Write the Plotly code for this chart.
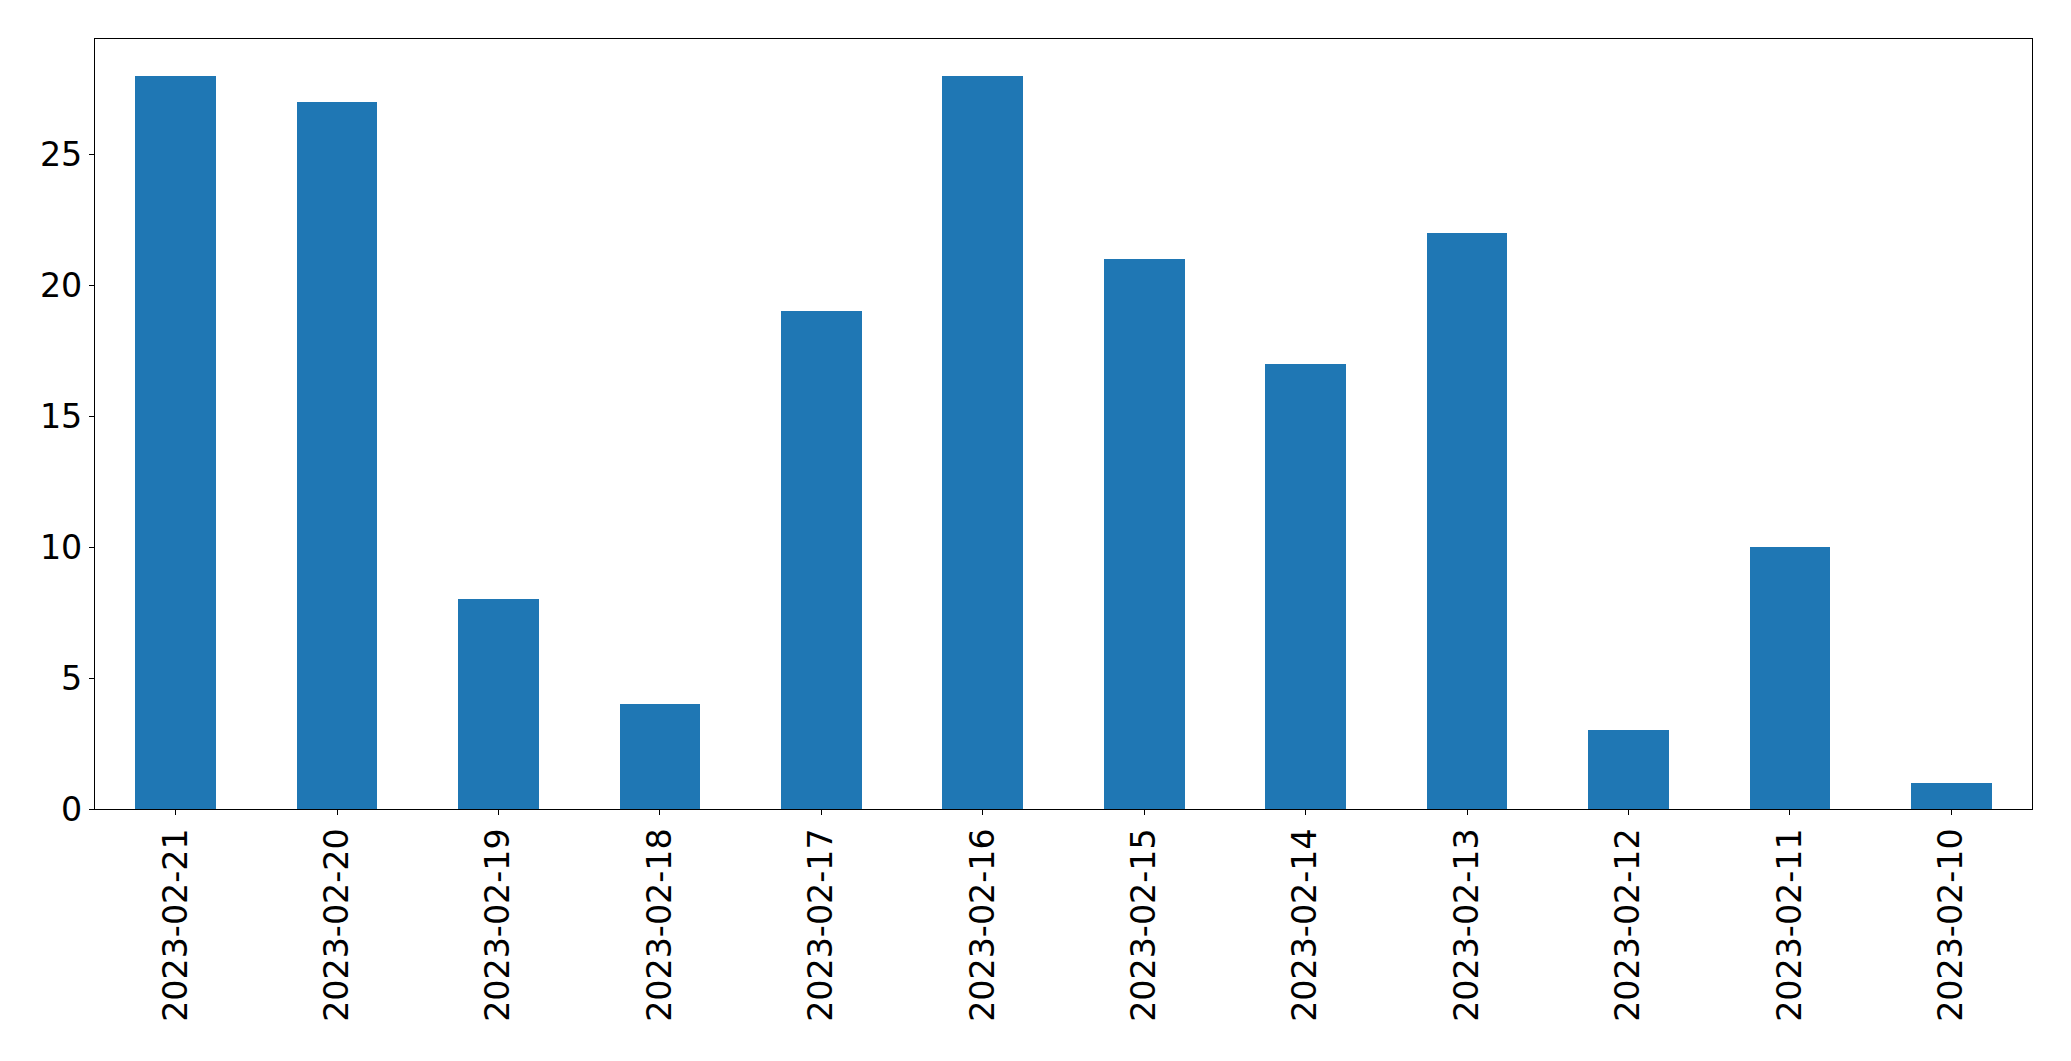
import plotly.graph_objects as go

dates = ["2023-02-21", "2023-02-20", "2023-02-19", "2023-02-18", "2023-02-17", "2023-02-16",
         "2023-02-15", "2023-02-14", "2023-02-13", "2023-02-12", "2023-02-11", "2023-02-10"]
counts = [28, 27, 8, 4, 19, 28, 21, 17, 22, 3, 10, 1]
y_ticks = [0, 5, 10, 15, 20, 25]

fig = go.Figure(go.Bar(x=dates, y=counts, marker=dict(color="#1f77b4", line=dict(width=0)), width=0.5))

font = dict(family="DejaVu Sans", size=33.3, color="black")
fig.update_layout(
    width=2063, height=1053,
    margin=dict(l=87, r=39, t=31, b=252, pad=0),
    paper_bgcolor="white", plot_bgcolor="white",
    showlegend=False,
    bargap=0,
)
fig.update_xaxes(
    type="category", range=[-0.5, len(dates) - 0.5],
    tickangle=-90, tickfont=font,
    ticks="outside", ticklen=5, tickwidth=1.1, tickcolor="black",
    showline=True, linecolor="black", linewidth=1.1, mirror=True,
    showgrid=False, zeroline=False, ticklabelstandoff=0,
)
fig.update_yaxes(
    range=[0, max(counts) * 1.05], tickvals=y_ticks, tickfont=font,
    ticks="outside", ticklen=5, tickwidth=1.1, tickcolor="black",
    showline=True, linecolor="black", linewidth=1.1, mirror=True,
    showgrid=False, zeroline=False, ticklabelstandoff=0,
)
fig.write_html("out.html")
